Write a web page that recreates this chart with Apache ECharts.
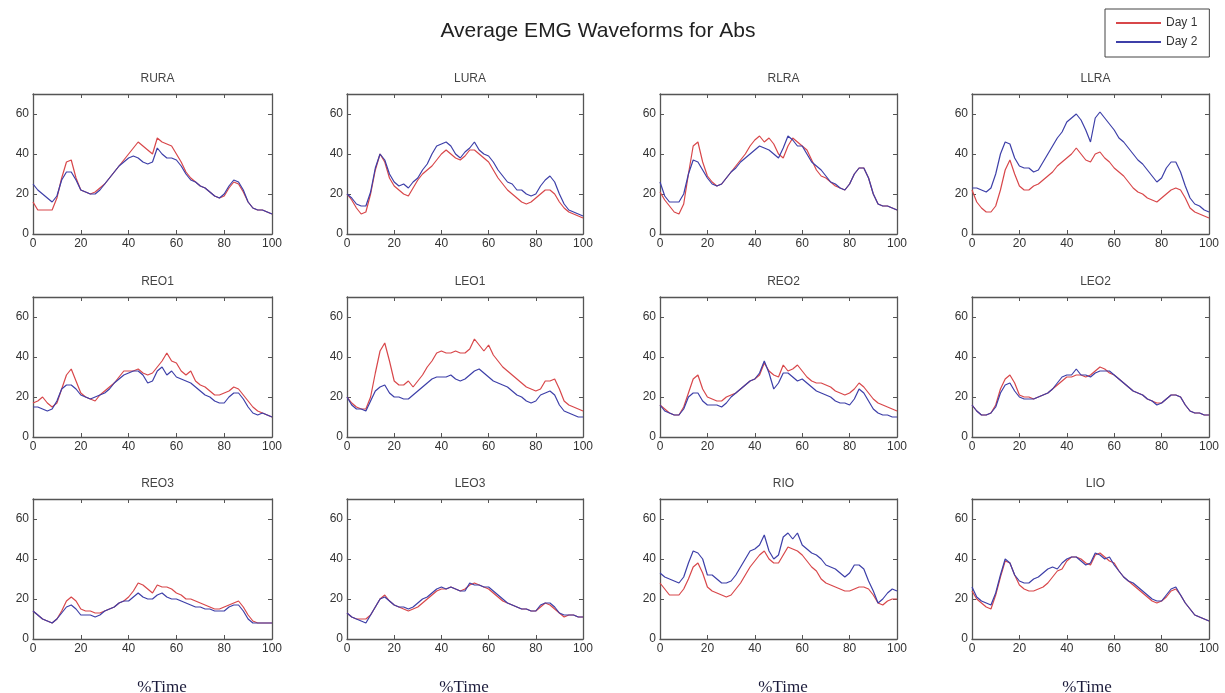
<!DOCTYPE html>
<html><head><meta charset="utf-8">
<script src="https://cdn.jsdelivr.net/npm/echarts@6/dist/echarts.min.js"></script>
<style>html,body{margin:0;padding:0;background:#fff}#c{width:1225px;height:693px}</style>
</head><body><div id="c"></div>
<script>
const mainTitle = 'Average EMG Waveforms for Abs';
const panelNames = ['RURA','LURA','RLRA','LLRA','REO1','LEO1','REO2','LEO2','REO3','LEO3','RIO','LIO'];
const seriesNames = ['Day 1','Day 2'];
const xTitle = '%Time';
const xTicks = [0,20,40,60,80,100];
const yTicks = [0,20,40,60];
const timePct = [0,2,4,6,8,10,12,14,16,18,20,22,24,26,28,30,32,34,36,38,40,42,44,46,48,50,52,54,56,58,60,62,64,66,68,70,72,74,76,78,80,82,84,86,88,90,92,94,96,98,100];

const RURA_day1 = [16,12,12,12,12,18,28,36,37,28,22,21,20,21,23,25,28,31,34,37,40,43,46,44,42,40,48,46,45,44,40,36,31,28,26,24,23,21,19,18,19,23,26,25,21,16,13,12,12,11,10];
const RURA_day2 = [25,22,20,18,16,19,27,31,31,27,22,21,20,20,22,25,28,31,34,36,38,39,38,36,35,36,43,40,38,38,37,34,30,27,26,24,23,21,19,18,20,24,27,26,22,16,13,12,12,11,10];
const LURA_day1 = [20,17,13,10,11,20,32,40,36,28,24,22,20,19,23,27,30,32,34,37,40,42,40,38,37,39,42,42,40,38,36,32,28,25,22,20,18,16,15,16,18,20,22,22,20,16,13,11,10,9,8];
const LURA_day2 = [20,18,15,14,14,21,33,40,37,30,26,24,25,23,26,28,32,35,40,44,45,46,44,40,38,41,43,46,42,40,39,36,32,29,26,25,22,22,20,19,20,24,27,29,26,20,15,12,11,10,9];
const RLRA_day1 = [21,17,14,11,10,15,30,44,46,36,29,26,24,25,28,31,34,37,40,44,47,49,46,48,45,40,38,44,48,46,44,42,37,32,29,28,26,24,23,22,25,30,33,33,28,20,15,14,14,13,12];
const RLRA_day2 = [26,19,16,16,16,20,30,37,36,32,28,25,24,25,28,31,33,36,38,40,42,44,43,42,40,38,43,49,47,44,44,40,36,34,32,29,26,25,23,22,25,30,33,33,28,20,15,14,14,13,12];
const LLRA_day1 = [22,16,13,11,11,14,22,32,37,30,24,22,22,24,25,27,29,31,34,36,38,40,43,40,37,36,40,41,38,36,33,31,29,26,23,21,20,18,17,16,18,20,22,23,22,18,13,11,10,9,8];
const LLRA_day2 = [23,23,22,21,23,30,40,46,45,38,34,33,33,31,32,36,40,44,48,51,56,58,60,57,52,46,58,61,58,55,52,48,46,43,40,37,35,32,29,26,28,33,36,36,31,24,18,15,14,12,11];
const REO1_day1 = [17,18,20,17,15,17,24,31,34,28,22,20,19,18,21,23,25,27,30,33,33,33,34,32,31,32,35,38,42,38,37,33,31,33,28,26,25,23,21,21,22,23,25,24,21,18,15,13,12,11,10];
const REO1_day2 = [15,15,14,13,14,18,24,26,26,24,21,20,19,20,21,22,24,27,29,31,32,33,33,31,27,28,33,35,31,33,30,29,28,27,25,23,21,20,18,17,17,20,22,22,19,15,12,11,12,11,10];
const LEO1_day1 = [20,17,15,14,14,20,32,43,47,38,28,26,26,28,25,28,31,35,38,42,43,42,42,43,42,42,44,49,46,43,46,41,38,35,33,31,29,27,25,24,23,24,28,28,29,24,18,16,15,14,13];
const LEO1_day2 = [20,16,14,14,13,18,23,25,26,22,20,20,19,19,21,23,25,27,29,30,30,30,31,29,28,29,31,33,34,32,30,28,27,26,25,23,21,20,18,17,18,21,22,23,21,16,13,12,11,10,10];
const REO2_day1 = [16,14,12,11,11,15,22,29,31,24,20,19,18,18,20,21,22,24,26,28,29,31,37,33,31,30,36,33,34,36,33,30,28,27,27,26,25,23,22,21,22,24,27,25,22,19,17,16,15,14,13];
const REO2_day2 = [16,13,12,11,11,14,20,22,22,18,16,16,16,15,17,20,22,24,26,28,29,32,38,32,24,27,32,32,30,28,29,27,25,23,22,21,20,18,17,17,16,19,24,22,18,14,12,11,11,10,10];
const LEO2_day1 = [16,13,11,11,12,16,24,29,31,27,21,20,20,19,20,21,22,24,26,28,30,30,31,31,30,31,33,35,34,32,31,29,27,25,23,22,21,19,18,17,17,19,21,21,20,16,13,12,12,11,11];
const LEO2_day2 = [16,13,11,11,12,15,22,26,27,23,20,19,19,19,20,21,22,24,27,30,31,31,34,31,31,30,32,33,33,33,31,29,27,25,23,22,21,19,18,16,17,19,21,21,20,16,13,12,12,11,11];
const REO3_day1 = [14,12,10,9,8,10,14,19,21,19,15,14,14,13,13,14,15,16,18,19,21,24,28,27,25,23,27,26,26,25,23,22,20,20,19,18,17,16,15,15,16,17,18,19,16,12,9,8,8,8,8];
const REO3_day2 = [14,12,10,9,8,10,13,16,17,15,12,12,12,11,12,14,15,16,18,19,19,21,23,21,20,20,22,23,21,20,20,19,18,17,16,16,15,15,14,14,14,16,17,17,14,10,8,8,8,8,8];
const LEO3_day1 = [13,11,10,10,10,12,16,20,22,19,17,16,15,14,15,16,18,20,22,24,25,25,26,25,24,25,27,28,27,26,25,23,21,19,18,17,16,15,15,14,14,16,18,17,15,13,11,12,12,11,11];
const LEO3_day2 = [13,11,10,9,8,12,16,20,21,19,17,16,16,15,16,18,20,21,23,25,26,25,26,25,24,24,28,27,27,26,26,24,22,20,18,17,16,15,15,14,14,17,18,18,16,13,12,12,12,11,11];
const RIO_day1 = [28,25,22,22,22,25,30,36,38,33,26,24,23,22,21,22,25,28,32,36,39,42,44,40,38,38,42,46,45,44,42,39,36,34,30,28,27,26,25,24,24,25,26,26,25,22,18,17,19,20,20];
const RIO_day2 = [33,31,30,29,28,31,38,44,43,40,32,32,30,28,28,29,32,36,40,44,45,47,52,44,40,42,51,53,50,53,47,45,43,42,40,37,36,35,33,31,33,37,37,35,29,24,18,20,23,25,24];
const LIO_day1 = [24,20,18,16,15,22,31,39,38,32,27,25,24,24,25,26,28,31,34,35,39,41,41,40,38,37,42,43,41,39,38,34,31,29,27,25,23,21,19,18,19,21,24,25,22,18,15,12,11,10,9];
const LIO_day2 = [26,21,19,18,17,23,32,40,38,32,29,28,28,30,31,33,35,36,35,38,40,41,41,39,37,38,43,42,40,41,37,34,31,29,28,26,24,22,20,19,19,22,25,26,22,18,15,12,11,10,9];

const panelData = [
  [RURA_day1, RURA_day2],[LURA_day1, LURA_day2],[RLRA_day1, RLRA_day2],[LLRA_day1, LLRA_day2],
  [REO1_day1, REO1_day2],[LEO1_day1, LEO1_day2],[REO2_day1, REO2_day2],[LEO2_day1, LEO2_day2],
  [REO3_day1, REO3_day2],[LEO3_day1, LEO3_day2],[RIO_day1, RIO_day2],[LIO_day1, LIO_day2]
];

// layout (pixels)
const colL = [33, 347, 660, 972];
const colR = [272, 583, 897, 1209];
const rowT = [94, 297, 499];
const plotH = 140;
const xTitleX = [157, 459, 778, 1082];
const colors = ['#d8474a', '#3d3fa8'];
const axisCol = '#555';
const font = 'Liberation Sans, Arial, sans-serif';

const grids = [], xAxes = [], yAxes = [], series = [], titles = [];
titles.push({text: mainTitle, left: 593, top: 16, textAlign: 'center',
  textStyle: {fontFamily: font, fontSize: 21, fontWeight: 'normal', color: '#222'}});
panelNames.forEach((name, i) => {
  const c = i % 4, r = Math.floor(i / 4);
  const L = colL[c], W = colR[c] - colL[c], T = rowT[r];
  grids.push({left: L, top: T, width: W, height: plotH, show: false});
  titles.push({text: name, left: L + W / 2, top: T - 26, textAlign: 'center',
    textStyle: {fontFamily: font, fontSize: 12, fontWeight: 'normal', color: '#444'}});
  const axLine = {show: true, onZero: false, lineStyle: {color: axisCol, width: 1.3}};
  const tick = {show: true, inside: true, length: 4, lineStyle: {color: axisCol}};
  const lbl = {fontFamily: font, fontSize: 12, color: '#333'};
  xAxes.push({gridIndex: i, type: 'value', min: 0, max: 100, interval: 20, position: 'bottom',
    axisLine: axLine, axisTick: tick, splitLine: {show: false},
    axisLabel: Object.assign({margin: 4}, lbl)});
  xAxes.push({gridIndex: i, type: 'value', min: 0, max: 100, interval: 20, position: 'top',
    axisLine: axLine, axisTick: tick, splitLine: {show: false}, axisLabel: {show: false}});
  yAxes.push({gridIndex: i, type: 'value', min: 0, max: 70, interval: 20, position: 'left',
    axisLine: axLine, axisTick: tick, splitLine: {show: false},
    axisLabel: Object.assign({margin: 4, showMaxLabel: false}, lbl)});
  yAxes.push({gridIndex: i, type: 'value', min: 0, max: 70, interval: 20, position: 'right',
    axisLine: axLine, axisTick: tick, splitLine: {show: false}, axisLabel: {show: false}});
  panelData[i].forEach((vals, k) => {
    series.push({name: seriesNames[k], type: 'line', xAxisIndex: 2 * i, yAxisIndex: 2 * i,
      data: timePct.map((t, j) => [t, vals[j]]), symbol: 'none', silent: true, animation: false,
      lineStyle: {color: colors[k], width: 1.2}, itemStyle: {color: colors[k]}});
  });
  if (r === 2) {
    titles.push({text: xTitle, left: xTitleX[c], top: 674, textAlign: 'center',
      textStyle: {fontFamily: 'Liberation Serif, Times New Roman, serif', fontSize: 17, fontWeight: 'normal', color: '#1a1a3a'}});
  }
});

const chart = echarts.init(document.getElementById('c'), null, {renderer: 'canvas'});
chart.setOption({
  backgroundColor: '#fff',
  animation: false,
  title: titles,
  legend: {data: seriesNames, orient: 'vertical', left: 1105, top: 9,
    itemWidth: 45, itemHeight: 14, itemGap: 7, padding: [8, 12, 9, 10],
    itemStyle: {opacity: 0},
    borderColor: '#444', borderWidth: 1, backgroundColor: '#fff',
    textStyle: {fontFamily: font, fontSize: 12, color: '#333'}},
  grid: grids, xAxis: xAxes, yAxis: yAxes, series: series
});
</script></body></html>
